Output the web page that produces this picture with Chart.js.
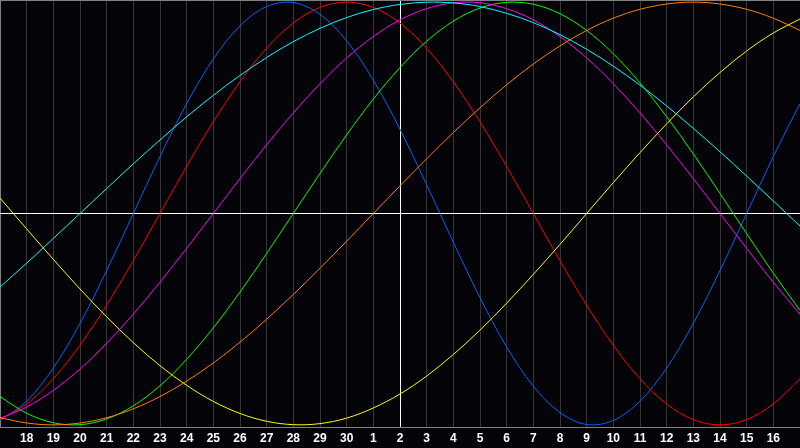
<!DOCTYPE html>
<html>
<head>
<meta charset="utf-8">
<script src="https://cdn.jsdelivr.net/npm/chart.js@4/dist/chart.umd.min.js"></script>
<style>
  html, body { margin: 0; padding: 0; background: #040308; }
  canvas { display: block; }
</style>
</head>
<body>
<canvas id="bioChart" width="800" height="448"></canvas>
<script>
// day labels, 17th to the 17th of next month (ends not printed)
const days = ['17', '18', '19', '20', '21', '22', '23', '24', '25', '26', '27', '28', '29', '30',
    '1', '2', '3', '4', '5', '6', '7', '8', '9', '10', '11', '12', '13', '14', '15', '16', '17'];

// cycle values, -100 .. 100
const physical = [-97.9, -88.8, -73.1, -52.0, -27.0, 0, 27.0, 52.0, 73.1, 88.8, 97.9, 99.8, 94.2, 81.7, 63.1, 39.8,
    13.6, -13.6, -39.8, -63.1, -81.7, -94.2, -99.8, -97.9, -88.8, -73.1, -52.0, -27.0, 0, 27.0, 52.0];
const emotional = [-97.5, -90.1, -78.2, -62.3, -43.4, -22.3, 0, 22.3, 43.4, 62.3, 78.2, 90.1, 97.5, 100, 97.5, 90.1,
    78.2, 62.3, 43.4, 22.3, 0, -22.3, -43.4, -62.3, -78.2, -90.1, -97.5, -100, -97.5, -90.1, -78.2];
const intellectual = [-86.6, -94.5, -99.0, -99.9, -97.2, -91.0, -81.5, -69.0, -54.1, -37.2, -18.9, 0, 18.9, 37.2, 54.1, 69.0,
    81.5, 91.0, 97.2, 99.9, 99.0, 94.5, 86.6, 75.6, 61.8, 45.8, 28.2, 9.5, -9.5, -28.2, -45.8];
const intuitive = [-96.9, -91.6, -83.7, -73.6, -61.4, -47.6, -32.5, -16.5, 0, 16.5, 32.5, 47.6, 61.4, 73.6, 83.7, 91.6,
    96.9, 99.7, 99.7, 96.9, 91.6, 83.7, 73.6, 61.4, 47.6, 32.5, 16.5, 0, -16.5, -32.5, -47.6];
const aesthetic = [7.3, -7.3, -21.7, -35.7, -48.9, -61.1, -72.0, -81.3, -88.9, -94.6, -98.3, -99.9, -99.4, -96.8, -92.0, -85.4,
    -76.9, -66.7, -55.2, -42.4, -28.8, -14.6, 0, 14.6, 28.8, 42.4, 55.2, 66.7, 76.9, 85.4, 92.0];
const awareness = [-96.6, -99.1, -100, -99.1, -96.6, -92.4, -86.6, -79.3, -70.7, -60.9, -50.0, -38.3, -25.9, -13.1, 0, 13.1,
    25.9, 38.3, 50.0, 60.9, 70.7, 79.3, 86.6, 92.4, 96.6, 99.1, 100, 99.1, 96.6, 92.4, 86.6];
const spiritual = [-34.8, -23.5, -11.8, 0, 11.8, 23.5, 34.8, 45.7, 55.9, 65.3, 73.8, 81.3, 87.6, 92.7, 96.5, 98.9,
    99.96, 99.6, 97.9, 94.7, 90.3, 84.6, 77.7, 69.7, 60.7, 50.9, 40.3, 29.2, 17.7, 5.9, -5.9];

const todayIndex = 15;

function line(data, color) {
    return {
        data: data,
        borderColor: color,
        borderWidth: 1,
        pointRadius: 0,
        tension: 0.34,
        fill: false
    };
}

const ctx = document.getElementById('bioChart').getContext('2d');
const bioChart = new Chart(ctx, {
    type: 'line',
    data: {
        labels: days,
        datasets: [
            line(spiritual, '#00ffff'),
            line(awareness, '#ff8000'),
            line(aesthetic, '#ffff00'),
            line(intuitive, '#ff00ff'),
            line(intellectual, '#00ff00'),
            line(emotional, '#ff0000'),
            line(physical, '#0064ff'),
        ],
    },
    options: {
        responsive: false,
        animation: false,
        layout: { padding: 0 },
        plugins: {
            legend: { display: false },
            tooltip: { enabled: false },
        },
        scales: {
            x: {
                type: 'category',
                offset: false,
                border: { display: true, color: '#808080', width: 1 },
                grid: {
                    drawTicks: false,
                    lineWidth: 1,
                    color: function(c) {
                        if (c.index === 0) return '#808080';
                        if (c.index === todayIndex) return '#ffffff';
                        return '#363636';
                    },
                },
                ticks: {
                    autoSkip: false,
                    maxRotation: 0,
                    padding: 4,
                    color: '#ffffff',
                    font: { family: 'Liberation Sans', size: 12, weight: 'bold' },
                    callback: function(value, index) {
                        if (index === 0 || index === days.length - 1) return '';
                        return days[index];
                    },
                },
                afterFit: function(scale) {
                    scale.height = 21;
                    scale.paddingLeft = 0;
                    scale.paddingRight = 0;
                },
            },
            y: {
                min: -101,
                max: 101,
                border: { display: false },
                grid: {
                    drawTicks: false,
                    color: function(c) {
                        if (c.tick.value === 0) return '#ffffff';
                        if (c.tick.value === 101) return '#808080';
                        return 'rgba(0,0,0,0)';
                    },
                },
                ticks: { display: false, stepSize: 101 },
                afterFit: function(scale) { scale.width = 0; },
            },
        },
    },
});
</script>
</body>
</html>
